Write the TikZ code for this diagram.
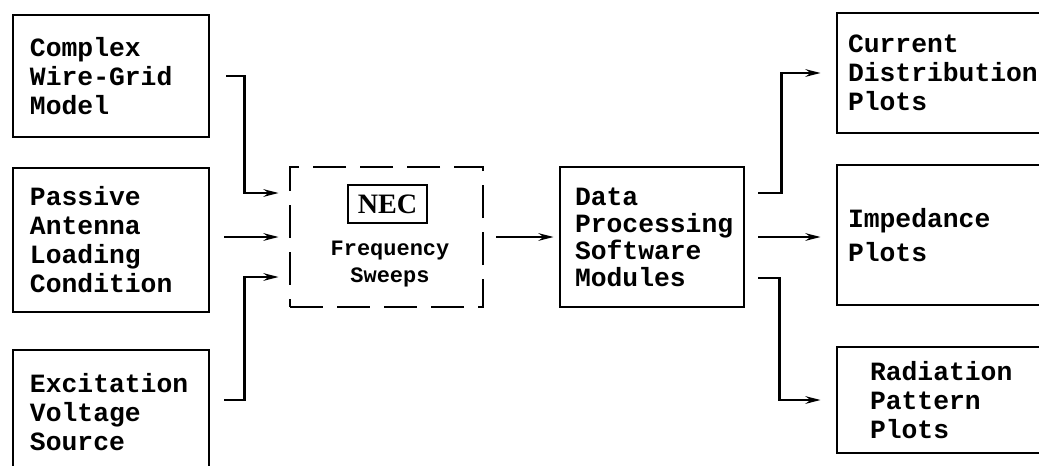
\documentclass[tikz,border=0pt]{standalone}
\usepackage{fontspec}
\setmonofont{Liberation Mono}
\newfontfamily\necfont{Liberation Serif}
\usetikzlibrary{arrows.meta,positioning}

\tikzset{
  blk/.style={draw=black, line width=1.6pt, inner ysep=0pt, align=left,
    font=\ttfamily\bfseries\fontsize{15}{16.5}\selectfont},
  dashblk/.style={draw=black, line width=1.6pt, dash pattern=on 6.6mm off 2.8mm},
  link/.style={draw=black, line width=1.4pt, -{Stealth[length=3mm,width=1.5mm]}},
}

\begin{document}
\begin{tikzpicture}[x=0.2mm,y=-0.2mm]
	\useasboundingbox (0,0) rectangle (1039,465);
	
	% inputs
	\node[blk, inner xsep=3.4mm, text width=32.4mm, minimum height=24.4mm] (model) at (111,76) {Complex\\Wire-Grid\\Model};
	\node[blk, inner xsep=3.4mm, text width=32.4mm, minimum height=28.8mm] (loading) at (111,240) {Passive\\Antenna\\Loading\\Condition};
	\node[blk, inner xsep=3.4mm, text width=32.4mm, minimum height=24.8mm] (source) at (111,412) {Excitation\\Voltage\\Source};
	
	% NEC
	\node[dashblk, minimum width=38.6mm, minimum height=28mm] (nec) at (386.5,237) {};
	\node[draw=black, line width=1.2pt, minimum width=15.8mm, minimum height=7.6mm, inner sep=0pt, font=\necfont\bfseries\fontsize{16}{16}\selectfont] (neclbl) at (387.5,204) {NEC};
	\node[align=center, inner sep=0pt, font=\ttfamily\bfseries\fontsize{12.5}{15.3}\selectfont] (sweeps) at (390,264) {Frequency\\Sweeps};
	
	% processing
	\node[blk, inner xsep=3mm, text width=30.8mm, minimum height=28mm, font=\ttfamily\bfseries\fontsize{15}{15.4}\selectfont] (data) at (652,237) {Data\\Processing\\Software\\Modules};
	
	% outputs
	\node[blk, inner xsep=2.2mm, text width=40.2mm, minimum height=24mm] (current) at (948.5,73) {Current\\Distribution\\Plots};
	\node[blk, inner xsep=2.2mm, text width=40.2mm, minimum height=28mm] (imped) at (948.5,235) {Impedance\\[3pt]Plots};
	\node[blk, inner xsep=6.6mm, text width=31.4mm, minimum height=21.2mm] (radiat) at (948.5,400) {Radiation\\Pattern\\Plots};
	
	\draw[link, shorten <=3.2mm, shorten >=2mm] (model.east) -- ++(34,0) |- ([yshift=8.8mm]nec.west);
	\draw[link, shorten <=2.8mm, shorten >=2mm] (nec.west -| loading.east) -- (nec.west);
	\draw[link, shorten <=2.8mm, shorten >=2mm] ([yshift=2.4mm]source.east) -- ++(34,0) |- ([yshift=-8mm]nec.west);
	
	\draw[link, shorten <=2.4mm, shorten >=1mm] (nec.east) -- (data.west);
	
	\draw[link, shorten <=2.6mm, shorten >=3mm] ([yshift=8.8mm]data.east) -- ++(36,0) |- (current.west);
	\draw[link, shorten <=2.6mm, shorten >=3mm] (data.east) -- (data.east -| imped.west);
	\draw[link, shorten <=2.6mm, shorten >=3mm] ([yshift=-8.2mm]data.east) -- ++(34,0) |- (radiat.west);
\end{tikzpicture}
\end{document}
